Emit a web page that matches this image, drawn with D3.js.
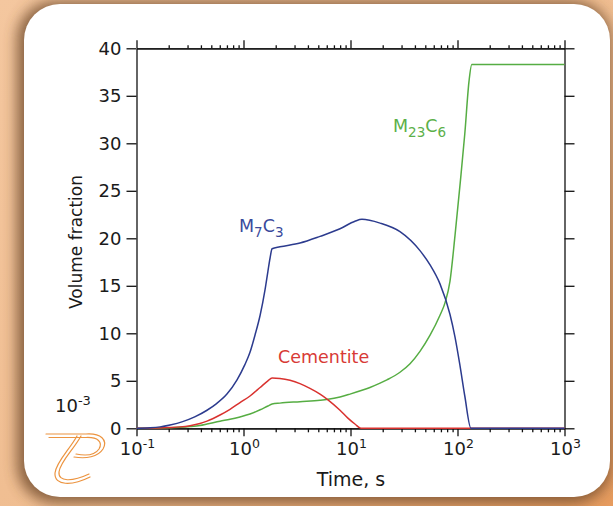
<!DOCTYPE html>
<html>
<head>
<meta charset="utf-8">
<script src="https://cdn.jsdelivr.net/npm/d3@7"></script>
<style>
  html, body { margin: 0; padding: 0; background: #f1bf93; }
  svg { display: block; }
</style>
</head>
<body>
<svg id="chart" width="613" height="506"></svg>
<script>
// Time axis decades (s) and their exponent labels
const timeDecades = [0.1, 1, 10, 100, 1000];
const decadeExponents = ["-1", "0", "1", "2", "3"];
// Volume fraction ticks (x 10^-3)
const volumeTicks = [0, 5, 10, 15, 20, 25, 30, 35, 40];

// Precipitate volume fraction (x 10^-3) versus time (s)
const m7c3 = [
  [0.1, 0], [0.134, 0.05], [0.166, 0.15], [0.206, 0.35], [0.27, 0.7], [0.35, 1.2],
  [0.456, 1.9], [0.56, 2.6], [0.70, 3.6], [0.87, 5.1], [1.03, 6.7], [1.15, 8.0],
  [1.28, 9.8], [1.43, 11.9], [1.59, 14.6], [1.69, 16.5], [1.77, 17.9], [1.85, 18.9],
  [2.19, 19.1], [3.37, 19.5], [5.19, 20.2], [7.98, 21.0], [11.0, 21.8], [12.8, 22.0],
  [18.9, 21.6], [29, 20.7], [44.6, 18.7], [55.4, 17.2], [68.6, 15.2], [85, 12.0],
  [94.8, 9.6], [105.5, 6.6], [117, 3.4], [133.7, 0], [1000, 0]
];
const cementite = [
  [0.1, 0], [0.15, 0.02], [0.2, 0.08], [0.255, 0.15], [0.316, 0.28], [0.392, 0.5],
  [0.456, 0.75], [0.603, 1.4], [0.748, 2.0], [0.927, 2.7], [1.15, 3.4], [1.43, 4.3],
  [1.69, 5.0], [1.85, 5.3], [2.19, 5.25], [2.72, 5.05], [3.37, 4.7], [4.18, 4.2],
  [5.19, 3.6], [6.16, 3.0], [7.98, 1.9], [9.4, 1.1], [11.0, 0.45], [12.5, 0], [1000, 0]
];
const m23c6 = [
  [0.1, 0], [0.166, 0.02], [0.255, 0.1], [0.316, 0.18], [0.392, 0.3], [0.456, 0.45],
  [0.603, 0.75], [0.748, 0.95], [0.927, 1.2], [1.15, 1.5], [1.43, 1.95], [1.69, 2.35],
  [1.85, 2.55], [2.19, 2.65], [3.37, 2.8], [5.19, 2.95], [6.16, 3.05], [7.98, 3.3],
  [9.89, 3.6], [12.8, 4.0], [15.2, 4.3], [18.9, 4.75], [21.9, 5.1], [29, 5.9], [36, 6.8],
  [44.6, 8.1], [55.4, 9.8], [68.6, 11.9], [76.4, 13.2], [85.1, 15.5], [94.8, 20.3],
  [105.5, 25.6], [117, 31], [128, 36.5], [136, 38.3], [1000, 38.3]
];

const FONT = "'DejaVu Sans', sans-serif";
const svg = d3.select("#chart");
const W = 613, H = 506;

// ---- backdrop: peach card with a shadowed white panel ----
const defs = svg.append("defs");
const bg = defs.append("linearGradient").attr("id", "bgGrad")
  .attr("x1", "0").attr("y1", "0").attr("x2", "1").attr("y2", "1");
bg.append("stop").attr("offset", "0").attr("stop-color", "#f4c79f");
bg.append("stop").attr("offset", "0.6").attr("stop-color", "#efbc8f");
bg.append("stop").attr("offset", "1").attr("stop-color", "#e69b5e");
svg.append("rect").attr("width", W).attr("height", H).attr("fill", "url(#bgGrad)");

const blur = defs.append("filter").attr("id", "shadow")
  .attr("x", "-20%").attr("y", "-20%").attr("width", "140%").attr("height", "140%");
blur.append("feGaussianBlur").attr("stdDeviation", 7);

svg.append("rect")
  .attr("x", 17).attr("y", 1).attr("width", 594).attr("height", 502).attr("rx", 38)
  .attr("fill", "#6e4a2c").attr("opacity", 0.8).attr("filter", "url(#shadow)");
svg.append("rect")
  .attr("x", 24).attr("y", 4).attr("width", 586).attr("height", 493).attr("rx", 36)
  .attr("fill", "#ffffff");

// ---- scales ----
const x = d3.scaleLog().domain([0.1, 1000]).range([136.5, 564.5]);
const y = d3.scaleLinear().domain([0, 40]).range([428.3, 48.3]);

const minorTimes = [];
for (let e = -1; e < 3; e++) {
  for (let k = 2; k <= 9; k++) minorTimes.push(k * Math.pow(10, e));
}

function styleAxis(g) {
  g.selectAll("path.domain").attr("stroke", "#111").attr("stroke-width", 1.3);
  g.selectAll(".tick line").attr("stroke", "#111").attr("stroke-width", 1.3);
  g.selectAll("text").remove();
}

// bottom axis: majors and minors pointing outward
svg.append("g").attr("transform", `translate(0,${y(0)})`)
  .call(d3.axisBottom(x).tickValues(timeDecades).tickSize(8).tickSizeOuter(0))
  .call(styleAxis);
svg.append("g").attr("transform", `translate(0,${y(0)})`)
  .call(d3.axisBottom(x).tickValues(minorTimes).tickSize(4).tickSizeOuter(0))
  .call(styleAxis);
// top axis
svg.append("g").attr("transform", `translate(0,${y(40)})`)
  .call(d3.axisTop(x).tickValues(timeDecades).tickSize(8).tickSizeOuter(0))
  .call(styleAxis);
svg.append("g").attr("transform", `translate(0,${y(40)})`)
  .call(d3.axisTop(x).tickValues(minorTimes).tickSize(3).tickSizeOuter(0))
  .call(styleAxis);
// left axis with labels
const yAxisG = svg.append("g").attr("transform", `translate(${x(0.1)},0)`)
  .call(d3.axisLeft(y).tickValues(volumeTicks).tickSize(10).tickPadding(5).tickSizeOuter(0));
yAxisG.selectAll("path.domain").attr("stroke", "#111").attr("stroke-width", 1.3);
yAxisG.selectAll(".tick line").attr("stroke", "#111").attr("stroke-width", 1.3);
yAxisG.selectAll("text").attr("font-family", FONT).attr("font-size", 18).attr("fill", "#1a1a1a");
// right axis
svg.append("g").attr("transform", `translate(${x(1000)},0)`)
  .call(d3.axisRight(y).tickValues(volumeTicks).tickSize(10).tickSizeOuter(0))
  .call(styleAxis);

// decade labels 10^n
timeDecades.forEach((t, i) => {
  const txt = svg.append("text")
    .attr("x", x(t) + 1).attr("y", 455)
    .attr("text-anchor", "middle")
    .attr("font-family", FONT).attr("font-size", 18).attr("fill", "#1a1a1a");
  txt.append("tspan").text("10");
  txt.append("tspan").attr("dy", -7).attr("font-size", 12.5).text(decadeExponents[i]);
});

// axis titles
svg.append("text")
  .attr("x", 351).attr("y", 486).attr("text-anchor", "middle")
  .attr("font-family", FONT).attr("font-size", 19).attr("fill", "#1a1a1a")
  .text("Time, s");
svg.append("text")
  .attr("transform", "translate(82,242) rotate(-90)")
  .attr("text-anchor", "middle")
  .attr("font-family", FONT).attr("font-size", 17).attr("fill", "#1a1a1a")
  .text("Volume fraction");
const scaleNote = svg.append("text")
  .attr("x", 55).attr("y", 412)
  .attr("font-family", FONT).attr("font-size", 18).attr("fill", "#1a1a1a");
scaleNote.append("tspan").text("10");
scaleNote.append("tspan").attr("dy", -7).attr("font-size", 13).text("-3");

// ---- curves ----
const line = d3.line()
  .x(d => x(d[0])).y(d => y(d[1]))
  .curve(d3.curveMonotoneX);

const series = [
  { data: m23c6, color: "#56ad43" },
  { data: cementite, color: "#d9322f" },
  { data: m7c3, color: "#2c3b8e" }
];
series.forEach(s => {
  svg.append("path").datum(s.data)
    .attr("d", line)
    .attr("fill", "none")
    .attr("stroke", s.color)
    .attr("stroke-width", 1.5)
    .attr("stroke-linejoin", "round");
});

// ---- curve labels ----
function phaseLabel(px, py, parts, color) {
  const t = svg.append("text").attr("x", px).attr("y", py)
    .attr("font-family", FONT).attr("font-size", 17.5).attr("fill", color);
  let shift = 0;
  parts.forEach(p => {
    const sp = t.append("tspan").text(p.s);
    const target = p.sub ? 5 : 0;
    sp.attr("dy", target - shift);
    if (p.sub) sp.attr("font-size", 13.5);
    shift = target;
  });
}
phaseLabel(239, 232, [{ s: "M" }, { s: "7", sub: true }, { s: "C" }, { s: "3", sub: true }], "#3a4a9c");
phaseLabel(278, 363, [{ s: "Cementite" }], "#d83a36");
phaseLabel(393, 132, [{ s: "M" }, { s: "23", sub: true }, { s: "C" }, { s: "6", sub: true }], "#5cb049");

// ---- publisher mark, drawn as double strokes ----
const logo = svg.append("g").attr("fill", "none").attr("stroke", "#ec9440")
  .attr("stroke-width", 1.2).attr("stroke-linecap", "round");
[
  "M46,434 L86,434 C101,433 108,440 103,449 C98,457 86,459 74,457",
  "M49,437.5 L86,437.5 C98,437 103,442 99,449 C95,455 86,456 76,454",
  "M77,436 C70,449 56,462 55,473 C54,486 72,486 90,477",
  "M81,436 C74,449 60,462 59,472 C58,482 72,482 89,474"
].forEach(d => logo.append("path").attr("d", d));
</script>
</body>
</html>
